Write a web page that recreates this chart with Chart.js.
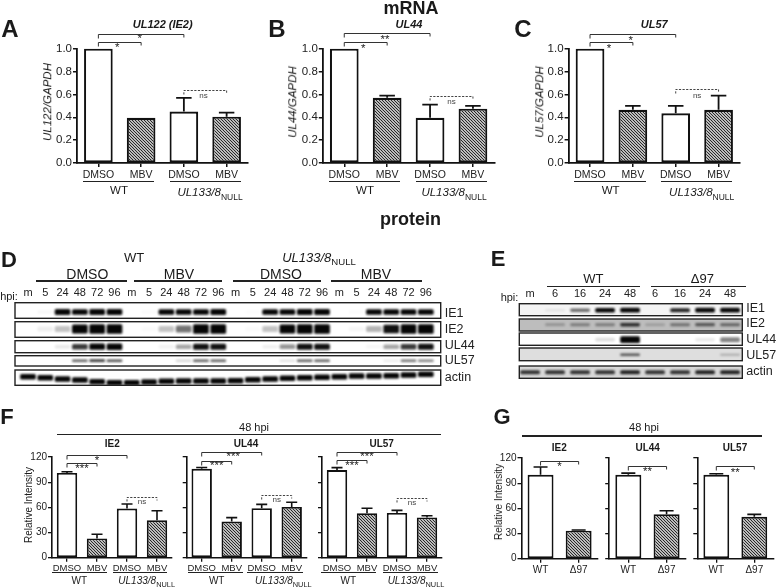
<!DOCTYPE html>
<html>
<head>
<meta charset="utf-8">
<title>mRNA and protein</title>
<script src="https://cdn.jsdelivr.net/npm/chart.js@4"></script>
<style>
    html, body { margin: 0; background: #fff; }
    #fig { position: relative; width: 777px; height: 588px; overflow: hidden; font-family: "Liberation Sans", Arial, sans-serif; color: #1a1a1a; }
    #fig canvas { position: absolute; left: 0; top: 0; }
    .t { position: absolute; white-space: nowrap; line-height: 1; transform: translate(-50%, -50%); }
    .l { position: absolute; height: 1.4px; background: #222; }
    sub { font-size: .74em; font-style: normal; line-height: 0; }
</style>
</head>
<body>
<div id="fig"></div>
<script>
// bar panels: categories
const trtLabels = ["DMSO", "MBV", "DMSO", "MBV"];
const virusLabels = ["WT", "Δ97"];
const ratioTicks = [0, 0.2, 0.4, 0.6, 0.8, 1.0];
const intensityTicks = [0, 30, 60, 90, 120];

// A-C, relative mRNA, and the top of each error bar
const ul122Values = [1.0, 0.395, 0.45, 0.405];
const ul122Tops = [1.0, 0.395, 0.57, 0.44];
const ul44Values = [1.0, 0.57, 0.395, 0.475];
const ul44Tops = [1.0, 0.59, 0.51, 0.50];
const ul57Values = [1.0, 0.465, 0.435, 0.465];
const ul57Tops = [1.0, 0.50, 0.50, 0.59];

// F, 48 hpi protein
const fIe2Values = [101, 23, 58.5, 44.5];
const fIe2Tops = [102.5, 28, 64, 56];
const fUl44Values = [106, 43, 59, 60.5];
const fUl44Tops = [107.5, 47.7, 63.6, 66];
const fUl57Values = [104.5, 53, 53.3, 48];
const fUl57Tops = [107.3, 59, 56.4, 50];

// G, 48 hpi protein
const gIe2Values = [100, 33.4];
const gIe2Tops = [109.3, 34.2];
const gUl44Values = [100, 53];
const gUl44Tops = [102, 57.2];
const gUl57Values = [100, 50];
const gUl57Tops = [101.3, 52.8];

// D, blot band strength per lane (0-1)
const dLanes = ["m","5","24","48","72","96","m","5","24","48","72","96","m","5","24","48","72","96","m","5","24","48","72","96"];
const dRowNames = ["IE1", "IE2", "UL44", "UL57", "actin"];
const dIe1 = [0,.08,.9,.85,.9,.95, 0,.06,.85,.85,.85,.9, 0,.04,.85,.85,.9,.95, 0,.06,.85,.85,.85,.85];
const dIe2 = [0,.12,.3,.9,1,1, 0,.05,.3,.55,1,1, 0,.05,.3,.9,1,1, 0,.08,.35,.8,1,1];
const dUl44 = [0,0,.15,.7,.9,.95, 0,0,.1,.4,.8,.8, 0,0,.12,.45,.8,.8, 0,0,.08,.4,.7,.8];
const dUl57 = [0,0,.05,.6,.7,.65, 0,0,0,.25,.6,.6, 0,0,0,.2,.6,.6, 0,0,0,.15,.55,.5];
const dActin = [.9,.9,.9,.9,.9,.95, .95,.9,.9,.9,.9,.9, .9,.9,.9,.9,.9,.9, .9,.9,.9,.9,.9,.9];
const dActinDrift = [74,75,76.3,77.3,79,80,80,79.3,78.6,78.3,78.3,78.3,78,77,76.3,75.6,75,74.6,74,73.3,73.3,73,72.3,71.6];

// E, blot band strength per lane (0-1)
const eLanes = ["m","6","16","24","48","6","16","24","48"];
const eRowNames = ["IE1", "IE2", "UL44", "UL57", "actin"];
const eIe1 = [0,.12,.55,.9,1,0,.75,1,1];
const eIe2 = [0,.3,.4,.4,.7,.25,.45,.55,.5];
const eUl44 = [0,0,0,.2,1,0,0,.15,.5];
const eUl57 = [0,0,0,0,.6,0,0,0,.3];
const eActin = [.7,.7,.7,.7,.75,.7,.7,.75,.75];

const W = 777, H = 588;
const AXIS_W = 30, AXIS_H = 24, TOP_H = 20, RIGHT_W = 34;
const fig = document.getElementById("fig");
Chart.defaults.font.family = '"Liberation Sans", Arial, sans-serif';
Chart.defaults.color = "#1a1a1a";
Chart.defaults.animation = false;

function addCanvas() {
    const c = document.createElement("canvas");
    c.width = W;
    c.height = H;
    fig.appendChild(c);
    return c;
}

function hatchPattern() {
    const tile = document.createElement("canvas");
    tile.width = 3;
    tile.height = 3;
    const g = tile.getContext("2d");
    g.fillStyle = "#fff";
    g.fillRect(0, 0, 3, 3);
    g.strokeStyle = "#222";
    g.lineWidth = 1.15;
    [-3, 0, 3].forEach(o => {
        g.beginPath();
        g.moveTo(o - 1, -1);
        g.lineTo(o + 4, 4);
        g.stroke();
    });
    return g.createPattern(tile, "repeat");
}

function barPanel(p) {
    const canvas = addCanvas();
    const hatch = hatchPattern();
    const lw = p.lw || 1.6;

    const marks = {
        id: "marks",
        afterDatasetsDraw(chart) {
            const { ctx, scales: { x, y } } = chart;
            ctx.save();
            ctx.lineWidth = lw;
            ctx.strokeStyle = "#111";
            const capHalf = (x.getPixelForValue(1) - x.getPixelForValue(0)) * p.barPct * 0.27;
            p.tops.forEach((top, i) => {
                if (top <= p.values[i]) return;
                const px = x.getPixelForValue(i);
                ctx.beginPath();
                ctx.moveTo(px, y.getPixelForValue(p.values[i]));
                ctx.lineTo(px, y.getPixelForValue(top));
                ctx.moveTo(px - capHalf, y.getPixelForValue(top));
                ctx.lineTo(px + capHalf, y.getPixelForValue(top));
                ctx.stroke();
            });
            // significance brackets
            ctx.lineWidth = 1;
            ctx.textAlign = "center";
            ctx.textBaseline = "middle";
            p.brackets.forEach(b => {
                const x0 = x.getPixelForValue(b.a), x1 = x.getPixelForValue(b.b), yy = Math.round(y.getPixelForValue(b.v)) + 0.5;
                const ns = b.mark === "ns";
                ctx.strokeStyle = ns ? "#444" : "#333";
                ctx.setLineDash(ns ? [2.2, 1.4] : []);
                ctx.beginPath();
                ctx.moveTo(x0, yy + 4);
                ctx.lineTo(x0, yy);
                ctx.lineTo(x1, yy);
                ctx.lineTo(x1, yy + 3);
                ctx.stroke();
                ctx.fillStyle = ns ? "#444" : "#222";
                ctx.font = ns ? '8px "Liberation Sans"' : '11.5px "Liberation Sans"';
                ctx.fillText(b.mark, x.getPixelForValue(b.mx), y.getPixelForValue(b.mv) + (ns ? 0 : 2));
            });
            ctx.restore();
        }
    };

    new Chart(canvas, {
        type: "bar",
        data: {
            labels: p.labels,
            datasets: [{
                data: p.values,
                backgroundColor: p.values.map((_, i) => i % 2 ? hatch : "#fff"),
                borderColor: "#111",
                borderWidth: lw + 0.3,
                borderSkipped: false,
                categoryPercentage: 1,
                barPercentage: p.barPct,
                clip: false
            }]
        },
        options: {
            responsive: false,
            layout: { padding: { left: p.left - AXIS_W, right: W - p.right, top: p.top, bottom: H - p.bottom - AXIS_H } },
            plugins: { legend: { display: false }, tooltip: { enabled: false } },
            scales: {
                x: {
                    afterFit: s => { s.height = AXIS_H; },
                    border: { color: "#111", width: lw },
                    grid: { display: true, drawOnChartArea: false, offset: false, tickLength: 4, color: "#111", lineWidth: lw - 0.3 },
                    ticks: { font: { size: p.xSize }, padding: p.xPad, maxRotation: 0, autoSkip: false, color: "#222" }
                },
                y: {
                    min: 0,
                    max: p.yTicks[p.yTicks.length - 1],
                    afterFit: s => { s.width = AXIS_W; },
                    afterBuildTicks: s => { s.ticks = p.yTicks.map(v => ({ value: v })); },
                    border: { color: "#111", width: lw },
                    grid: { drawOnChartArea: false, tickLength: 4, color: "#111", lineWidth: lw - 0.3 },
                    ticks: {
                        display: p.showY !== false,
                        font: { size: p.ySize },
                        padding: 1,
                        color: "#222",
                        callback: v => p.yFixed ? v.toFixed(p.yFixed) : String(v)
                    }
                }
            }
        },
        plugins: [marks]
    });
}

function blotPanel(p) {
    const canvas = addCanvas();

    const frames = {
        id: "frames",
        beforeDatasetsDraw(chart) {
            const { ctx, chartArea: a, scales: { y } } = chart;
            p.rowBounds.forEach((r, i) => {
                ctx.fillStyle = p.rowBg[i];
                ctx.fillRect(a.left, y.getPixelForValue(r[0]), a.right - a.left, y.getPixelForValue(r[1]) - y.getPixelForValue(r[0]));
            });
            ctx.save();
            ctx.filter = "blur(0.9px)";
        },
        afterDatasetsDraw(chart) {
            const { ctx, chartArea: a, scales: { y } } = chart;
            ctx.restore();
            ctx.strokeStyle = "#222";
            ctx.lineWidth = 1.4;
            p.rowBounds.forEach(r => {
                ctx.strokeRect(a.left, y.getPixelForValue(r[0]), a.right - a.left, y.getPixelForValue(r[1]) - y.getPixelForValue(r[0]));
            });
        }
    };

    const datasets = p.rows.map((row, r) => {
        const keep = row.map((v, i) => i).filter(i => row[i] > 0);
        return {
            data: keep.map(i => {
                const c = Array.isArray(p.centers[r]) ? p.centers[r][i] : p.centers[r];
                const h = p.maxH[r] * (0.4 + 0.6 * row[i]);
                return { x: i, y: [c - h / 2, c + h / 2] };
            }),
            backgroundColor: keep.map(i => `rgba(5,5,5,${Math.min(1, Math.pow(row[i], 1.4) * 1.3)})`),
            barThickness: p.bandW,
            borderRadius: 1.5,
            borderSkipped: false,
            grouped: false
        };
    });

    new Chart(canvas, {
        type: "bar",
        data: { datasets },
        options: {
            responsive: false,
            layout: { padding: { left: p.left, right: W - p.right - RIGHT_W, top: p.top - TOP_H, bottom: H - p.bottom } },
            plugins: { legend: { display: false }, tooltip: { enabled: false } },
            scales: {
                x: {
                    type: "linear",
                    position: "top",
                    offset: false,
                    min: p.laneMin,
                    max: p.laneMax,
                    afterFit: s => { s.height = TOP_H; },
                    afterBuildTicks: s => { s.ticks = p.lanes.map((_, i) => ({ value: i })); },
                    border: { display: false },
                    grid: { display: false, offset: false, drawTicks: false },
                    ticks: { font: { size: 11 }, padding: 3, maxRotation: 0, autoSkip: false, color: "#222", callback: v => p.lanes[v] }
                },
                y: {
                    type: "linear",
                    position: "right",
                    reverse: true,
                    min: 0,
                    max: p.bottom - p.top,
                    afterFit: s => { s.width = RIGHT_W; },
                    afterBuildTicks: s => { s.ticks = p.labelAt.map(v => ({ value: v })); },
                    border: { display: false },
                    grid: { display: false, drawTicks: false },
                    ticks: { font: { size: 12.5 }, padding: 4, autoSkip: false, color: "#222", callback: (v, i) => p.rowNames[i] }
                }
            }
        },
        plugins: [frames]
    });
}

function txt(html, x, y, size, style) {
    const d = document.createElement("div");
    d.className = "t";
    d.innerHTML = html;
    d.style.left = x + "px";
    d.style.top = y + "px";
    d.style.fontSize = size + "px";
    if (style) d.style.cssText += style;
    fig.appendChild(d);
}

function rule(x1, x2, y) {
    const d = document.createElement("div");
    d.className = "l";
    d.style.left = x1 + "px";
    d.style.width = (x2 - x1) + "px";
    d.style.top = (y - 0.7) + "px";
    fig.appendChild(d);
}

const BOLD = "font-weight:bold;";
const ITAL = "font-style:italic;";
const UP = "transform:translate(-50%,-50%) rotate(-90deg);";
const NULL_LABEL = "<i>UL133/8</i><sub>NULL</sub>";

// A B C
barPanel({ labels: trtLabels, values: ul122Values, tops: ul122Tops, yTicks: ratioTicks, yFixed: 1, left: 77, right: 248, top: 48.7, bottom: 163, barPct: .67, xSize: 10.5, ySize: 11.5, xPad: 2, lw: 1.8,
    brackets: [
        { a: 0, b: 1, v: 1.061, mark: "*", mx: .44, mv: 1.026 },
        { a: 0, b: 2, v: 1.131, mark: "*", mx: .97, mv: 1.102 },
        { a: 2, b: 3, v: .636, mark: "ns", mx: 2.46, mv: .589 }
    ] });
barPanel({ labels: trtLabels, values: ul44Values, tops: ul44Tops, yTicks: ratioTicks, yFixed: 1, left: 322.8, right: 494.4, top: 48.7, bottom: 163, barPct: .67, xSize: 10.5, ySize: 11.5, xPad: 2, lw: 1.8,
    brackets: [
        { a: 0, b: 1, v: 1.056, mark: "*", mx: .44, mv: 1.017 },
        { a: 0, b: 2, v: 1.135, mark: "**", mx: .95, mv: 1.096 },
        { a: 2, b: 3, v: .586, mark: "ns", mx: 2.5, mv: .536 }
    ] });
barPanel({ labels: trtLabels, values: ul57Values, tops: ul57Tops, yTicks: ratioTicks, yFixed: 1, left: 568.6, right: 740, top: 48.7, bottom: 163, barPct: .67, xSize: 10.5, ySize: 11.5, xPad: 2, lw: 1.8,
    brackets: [
        { a: 0, b: 1, v: 1.056, mark: "*", mx: .44, mv: 1.017 },
        { a: 0, b: 2, v: 1.131, mark: "*", mx: .95, mv: 1.088 },
        { a: 2, b: 3, v: .645, mark: "ns", mx: 2.5, mv: .592 }
    ] });

// D E
blotPanel({ lanes: dLanes, rowNames: dRowNames, rows: [dIe1, dIe2, dUl44, dUl57, dActin],
    centers: [9.3, 26.3, 44, 58, dActinDrift], maxH: [5.5, 9, 6, 2.5, 5], bandW: 15,
    rowBounds: [[0, 15.6], [19, 34.6], [38, 50], [53, 63.3], [67.3, 82.6]],
    rowBg: ["#fff", "#fff", "#fff", "#fff", "#fff"],
    labelAt: [11.3, 27.3, 43.3, 58, 74.6],
    left: 15, right: 440.7, top: 302.7, bottom: 385.3, laneMin: -0.75, laneMax: 23.86 });
blotPanel({ lanes: eLanes, rowNames: eRowNames, rows: [eIe1, eIe2, eUl44, eUl57, eActin],
    centers: [6.5, 21, 36, 51, 68.5], maxH: [4, 3.5, 6, 2.5, 4], bandW: 19,
    rowBounds: [[0, 12], [15.3, 27.3], [29.3, 41.6], [44.3, 57], [62.3, 74.6]],
    rowBg: ["#f4f4f4", "#bdbdbd", "#fff", "#dedede", "#d8d8d8"],
    labelAt: [5.3, 20.3, 36.3, 52.3, 68],
    left: 519.3, right: 742.3, top: 303.7, bottom: 378.3, laneMin: -0.43, laneMax: 8.49 });

// F
barPanel({ labels: trtLabels, values: fIe2Values, tops: fIe2Tops, yTicks: intensityTicks, left: 52, right: 172, top: 457, bottom: 557.7, barPct: .68, xSize: 9.5, ySize: 10, xPad: 1,
    brackets: [
        { a: 0, b: 1, v: 112.4, mark: "***", mx: .5, mv: 107.7 },
        { a: 0, b: 2, v: 122, mark: "*", mx: 1, mv: 118 },
        { a: 2, b: 3, v: 71.9, mark: "ns", mx: 2.5, mv: 67 }
    ] });
barPanel({ labels: trtLabels, values: fUl44Values, tops: fUl44Tops, yTicks: intensityTicks, showY: false, left: 186.7, right: 306.7, top: 457, bottom: 557.7, barPct: .68, xSize: 9.5, ySize: 10, xPad: 1,
    brackets: [
        { a: 0, b: 1, v: 115.6, mark: "***", mx: .5, mv: 111.6 },
        { a: 0, b: 2, v: 126.3, mark: "***", mx: 1.05, mv: 122 },
        { a: 2, b: 3, v: 74.3, mark: "ns", mx: 2.5, mv: 69 }
    ] });
barPanel({ labels: trtLabels, values: fUl57Values, tops: fUl57Tops, yTicks: intensityTicks, showY: false, left: 322, right: 442, top: 457, bottom: 557.7, barPct: .68, xSize: 9.5, ySize: 10, xPad: 1,
    brackets: [
        { a: 0, b: 1, v: 116.8, mark: "***", mx: .5, mv: 111.6 },
        { a: 0, b: 2, v: 126.3, mark: "***", mx: 1, mv: 122.4 },
        { a: 2, b: 3, v: 71.5, mark: "ns", mx: 2.5, mv: 66 }
    ] });

// G
barPanel({ labels: virusLabels, values: gIe2Values, tops: gIe2Tops, yTicks: intensityTicks, left: 521.5, right: 597.7, top: 458, bottom: 558.7, barPct: .68, xSize: 10, ySize: 10, xPad: 2,
    brackets: [{ a: 0, b: 1, v: 116.8, mark: "*", mx: .5, mv: 112 }] });
barPanel({ labels: virusLabels, values: gUl44Values, tops: gUl44Tops, yTicks: intensityTicks, showY: false, left: 609.2, right: 685.7, top: 458, bottom: 558.7, barPct: .68, xSize: 10, ySize: 10, xPad: 2,
    brackets: [{ a: 0, b: 1, v: 110.8, mark: "**", mx: .5, mv: 105.7 }] });
barPanel({ labels: virusLabels, values: gUl57Values, tops: gUl57Tops, yTicks: intensityTicks, showY: false, left: 697.3, right: 773.3, top: 458, bottom: 558.7, barPct: .68, xSize: 10, ySize: 10, xPad: 2,
    brackets: [{ a: 0, b: 1, v: 110, mark: "**", mx: .5, mv: 105 }] });

// headings and panel letters
txt("mRNA", 411, 8, 18, BOLD);
txt("protein", 410.5, 218.5, 18, BOLD);
[["A", 10, 29, 24], ["B", 277, 29, 24], ["C", 523, 29, 24], ["D", 9, 259.5, 22], ["E", 498, 258.5, 22], ["F", 7, 416.5, 22], ["G", 502, 417, 22]]
    .forEach(a => txt(a[0], a[1], a[2], a[3], BOLD));

// A B C annotations
txt("UL122 (IE2)", 162.7, 24, 11, BOLD + ITAL);
txt("UL44", 409, 24, 11, BOLD + ITAL);
txt("UL57", 654.3, 24, 11, BOLD + ITAL);
txt("UL122/GAPDH", 48.3, 101.7, 11.5, ITAL + UP);
txt("UL44/GAPDH", 293.3, 101.7, 11.5, ITAL + UP);
txt("UL57/GAPDH", 540, 101.7, 11.5, ITAL + UP);
[[82.7, 154, 170, 240.7, 119, 210], [329, 400, 416, 486.7, 365, 454], [574.3, 646, 661, 732, 610.7, 701.7]].forEach(g => {
    rule(g[0], g[1], 181.7);
    rule(g[2], g[3], 181.7);
    txt("WT", g[4], 191, 11.5);
    txt(NULL_LABEL, g[5], 193, 11.5);
});

// D annotations
txt("WT", 134, 256.7, 13);
txt(NULL_LABEL, 319, 256.5, 13);
[[87.3, "DMSO", 35.7, 127.3], [179, "MBV", 134, 222.3], [281, "DMSO", 233.3, 320.7], [376, "MBV", 330.7, 422.3]].forEach(g => {
    txt(g[1], g[0], 274.3, 14);
    rule(g[2], g[3], 281);
});
txt("hpi:", 9, 295.7, 11);

// E annotations
txt("WT", 593.3, 278.3, 13);
txt("Δ97", 702.3, 278.3, 13);
rule(547.3, 640, 286.7);
rule(651.3, 745.7, 286.7);
txt("hpi:", 509.5, 296.7, 11);

// F annotations
txt("48 hpi", 254, 426.7, 11);
rule(57, 440.7, 434.7);
txt("IE2", 112.3, 443.7, 10, BOLD);
txt("UL44", 246, 443.7, 10, BOLD);
txt("UL57", 381.7, 443.7, 10, BOLD);
txt("Relative Intensity", 29.3, 505, 10, UP);
[[51.7, 106.7, 113.3, 167.3, 79.3, 146.7], [188.3, 243.3, 246.7, 303.3, 216.7, 283.3], [321, 375.7, 383.3, 437.7, 348.3, 416]].forEach(g => {
    rule(g[0], g[1], 572.3);
    rule(g[2], g[3], 572.3);
    txt("WT", g[4], 580.7, 10);
    txt(NULL_LABEL, g[5], 581, 10);
});

// G annotations
txt("48 hpi", 644, 427.3, 11);
rule(521.7, 762.3, 436);
txt("IE2", 559.3, 448.3, 10, BOLD);
txt("UL44", 647.7, 448.3, 10, BOLD);
txt("UL57", 735, 448.3, 10, BOLD);
txt("Relative Intensity", 499, 501.7, 10, UP);
</script>
</body>
</html>
